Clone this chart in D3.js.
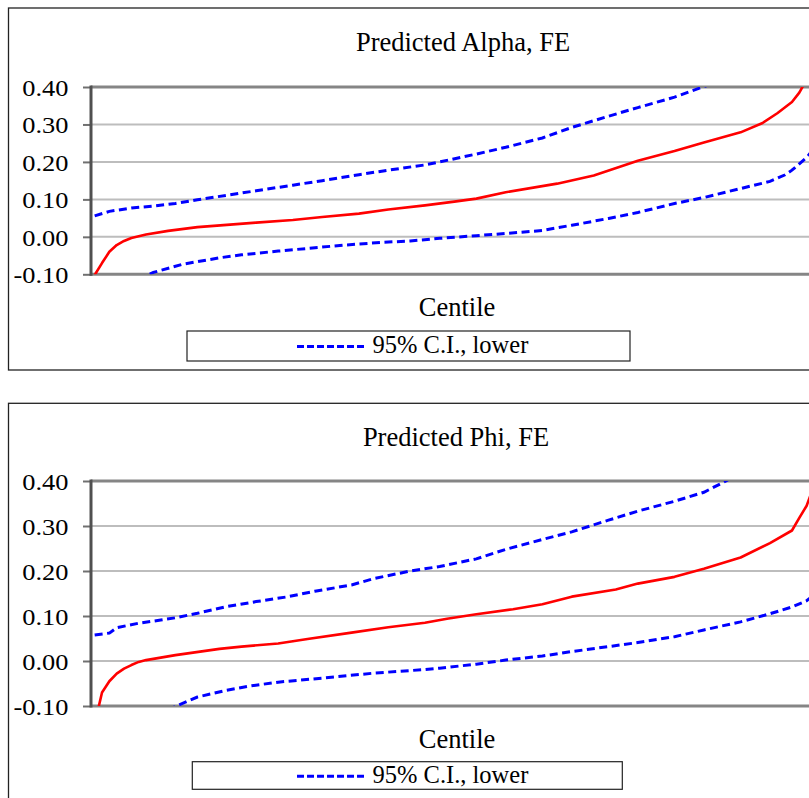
<!DOCTYPE html>
<html lang="en">
<head>
  <meta charset="UTF-8">
  <title>Predicted Alpha and Phi, FE</title>
  <script src="https://d3js.org/d3.v7.min.js"></script>
  <style>
    body { margin: 0; background: #fff; }
    svg { display: block; overflow: hidden; }
    svg text { font-family: "Liberation Serif", "Times New Roman", serif; fill: #000; }
  </style>
</head>
<body>
  <svg id="chart" width="809" height="798"></svg>

  <script>
    // centile positions (1..100) and values
    const alphaEstC = [1, 2, 3, 4, 5, 6, 8, 11, 15, 19, 23, 28, 32, 37, 41, 46, 50, 53, 57, 64, 69, 75, 80, 84, 89, 92, 94, 96, 97, 98, 99, 100];
    const alphaEst  = [-0.102, -0.07, -0.04, -0.022, -0.011, -0.003, 0.006, 0.016, 0.026, 0.032, 0.038, 0.045, 0.053, 0.062, 0.073, 0.084, 0.094, 0.102, 0.119, 0.142, 0.164, 0.203, 0.229, 0.252, 0.279, 0.304, 0.33, 0.36, 0.385, 0.42, 0.46, 0.6];
    const alphaUpC  = [1, 3, 6, 9, 12, 15, 19, 23, 28, 32, 37, 41, 46, 48, 53, 57, 62, 66, 71, 75, 80, 84, 86];
    const alphaUp   = [0.056, 0.068, 0.077, 0.082, 0.089, 0.099, 0.111, 0.123, 0.138, 0.150, 0.166, 0.178, 0.192, 0.2, 0.221, 0.239, 0.264, 0.292, 0.322, 0.345, 0.373, 0.401, 0.415];
    const alphaLoC  = [7, 8, 9, 13, 18, 21, 26, 30, 35, 40, 44, 48, 53, 57, 62, 66, 71, 75, 80, 84, 89, 93, 95, 96, 97, 98, 99, 100];
    const alphaLo   = [-0.115, -0.104, -0.095, -0.073, -0.056, -0.048, -0.038, -0.031, -0.022, -0.015, -0.011, -0.004, 0.003, 0.009, 0.017, 0.031, 0.049, 0.065, 0.089, 0.105, 0.129, 0.148, 0.165, 0.178, 0.195, 0.212, 0.235, 0.27];

    const phiEstC = [1, 2, 3, 4, 5, 6, 7, 8, 12, 18, 21, 26, 30, 36, 41, 46, 49, 53, 58, 62, 66, 72, 75, 80, 84, 89, 93, 96, 97, 98, 99, 100];
    const phiEst  = [-0.14, -0.07, -0.045, -0.028, -0.017, -0.009, -0.002, 0.002, 0.013, 0.027, 0.032, 0.039, 0.049, 0.063, 0.075, 0.085, 0.094, 0.104, 0.115, 0.126, 0.143, 0.159, 0.172, 0.187, 0.205, 0.23, 0.262, 0.29, 0.318, 0.345, 0.39, 0.45];
    const phiUpC  = [1, 3, 4, 7, 10, 12, 15, 19, 23, 27, 31, 36, 39, 44, 48, 53, 57, 62, 66, 71, 75, 80, 84, 87, 89];
    const phiUp   = [0.058, 0.062, 0.074, 0.084, 0.091, 0.096, 0.106, 0.121, 0.132, 0.142, 0.155, 0.169, 0.183, 0.2, 0.21, 0.227, 0.248, 0.27, 0.287, 0.313, 0.333, 0.355, 0.375, 0.40, 0.42];
    const phiLoC  = [11, 12, 15, 19, 22, 26, 32, 39, 46, 48, 53, 57, 62, 66, 71, 75, 80, 84, 89, 93, 96, 98, 100];
    const phiLo   = [-0.11, -0.101, -0.08, -0.065, -0.056, -0.047, -0.038, -0.027, -0.019, -0.016, -0.007, 0.002, 0.011, 0.021, 0.032, 0.041, 0.054, 0.069, 0.087, 0.105, 0.12, 0.134, 0.16];

    const yTicks = [-0.10, 0.00, 0.10, 0.20, 0.30, 0.40];

    const panels = [
      { id: "alpha", title: "Predicted Alpha, FE", boxTop: 8, boxBottom: 370, titleX: 463, titleY: 50.5,
        plotTop: 87, plotBottom: 274.3, axisY: 316.3,
        legend: { x0: 187, x1: 630, y0: 331, y1: 361, base: 353 },
        est: [alphaEstC, alphaEst], up: [alphaUpC, alphaUp], lo: [alphaLoC, alphaLo] },
      { id: "phi", title: "Predicted Phi, FE", boxTop: 403.3, boxBottom: 810, titleX: 456, titleY: 446,
        plotTop: 481, plotBottom: 706, axisY: 748.3,
        legend: { x0: 192.3, x1: 622.3, y0: 761.7, y1: 789.3, base: 782.7 },
        est: [phiEstC, phiEst], up: [phiUpC, phiUp], lo: [phiLoC, phiLo] }
    ];

    const svg = d3.select("#chart");
    const plotLeft = 91, plotRight = 825;
    const tickStretch = 1.1;

    const x = d3.scaleLinear().domain([0.5, 100.5]).range([plotLeft, plotRight]);

    function label(g, px, py, str, anchor, size) {
      g.append("text")
        .attr("x", px).attr("y", py)
        .attr("text-anchor", anchor)
        .style("font-size", size + "px")
        .text(str);
    }

    panels.forEach(p => {
      const g = svg.append("g");
      const y = d3.scaleLinear().domain([-0.10, 0.40]).range([p.plotBottom, p.plotTop]);

      // chart area border
      g.append("rect")
        .attr("x", 8.5).attr("y", p.boxTop)
        .attr("width", 900).attr("height", p.boxBottom - p.boxTop)
        .attr("fill", "none").attr("stroke", "#222").attr("stroke-width", 1.3);

      label(g, p.titleX, p.titleY, p.title, "middle", 26.5);

      // gridlines
      g.selectAll(".grid")
        .data(yTicks.filter(t => t > -0.1 && t < 0.4))
        .enter().append("line")
        .attr("x1", plotLeft).attr("x2", plotRight)
        .attr("y1", d => y(d)).attr("y2", d => y(d))
        .attr("stroke", "#bdbdbd").attr("stroke-width", 2);

      // plot border top and bottom
      [0.40, -0.10].forEach(v => {
        g.append("line")
          .attr("x1", plotLeft).attr("x2", plotRight)
          .attr("y1", y(v)).attr("y2", y(v))
          .attr("stroke", "#858585").attr("stroke-width", 3);
      });

      // y axis
      const yAxis = g.append("g")
        .attr("transform", `translate(${plotLeft},0)`)
        .call(d3.axisLeft(y).tickValues(yTicks).tickSize(8).tickFormat(d => d.toFixed(2)));
      yAxis.select(".domain").remove();
      yAxis.selectAll(".tick line").attr("stroke", "#707070").attr("stroke-width", 2);
      yAxis.selectAll(".tick text")
        .attr("x", -22.5 / tickStretch)
        .attr("dy", "0.35em")
        .attr("transform", `scale(${tickStretch},1)`)
        .style("font-family", "'Liberation Serif', 'Times New Roman', serif")
        .style("font-size", "24px")
        .attr("fill", "#000");
      g.append("line")
        .attr("x1", plotLeft).attr("x2", plotLeft)
        .attr("y1", y(0.40) - 1.5).attr("y2", y(-0.10) + 1.5)
        .attr("stroke", "#505050").attr("stroke-width", 3);

      // series, clipped to the plot area
      const clipId = "clip-" + p.id;
      svg.append("clipPath").attr("id", clipId)
        .append("rect")
        .attr("x", plotLeft).attr("y", p.plotTop)
        .attr("width", plotRight - plotLeft).attr("height", p.plotBottom - p.plotTop);

      const lines = g.append("g").attr("clip-path", `url(#${clipId})`);
      const line = d3.line().x(d => x(d[0])).y(d => y(d[1]));
      const pairs = s => s[0].map((c, i) => [c, s[1][i]]);

      lines.append("path").datum(pairs(p.up)).attr("d", line)
        .attr("fill", "none").attr("stroke", "#0000ff").attr("stroke-width", 3)
        .attr("stroke-dasharray", "8,4.5");
      lines.append("path").datum(pairs(p.lo)).attr("d", line)
        .attr("fill", "none").attr("stroke", "#0000ff").attr("stroke-width", 3)
        .attr("stroke-dasharray", "8,4.5");
      lines.append("path").datum(pairs(p.est)).attr("d", line)
        .attr("fill", "none").attr("stroke", "#ff0000").attr("stroke-width", 2.6)
        .attr("stroke-linejoin", "round");

      label(g, 457, p.axisY, "Centile", "middle", 26.5);

      // legend
      const L = p.legend;
      g.append("rect")
        .attr("x", L.x0).attr("y", L.y0)
        .attr("width", L.x1 - L.x0).attr("height", L.y1 - L.y0)
        .attr("fill", "#fff").attr("stroke", "#222").attr("stroke-width", 1.2);
      g.append("line")
        .attr("x1", 297).attr("x2", 366)
        .attr("y1", L.base - 6.5).attr("y2", L.base - 6.5)
        .attr("stroke", "#0000ff").attr("stroke-width", 3)
        .attr("stroke-dasharray", "7,3");
      label(g, 372.5, L.base, "95% C.I., lower", "start", 24.5);
    });
  </script>
</body>
</html>
